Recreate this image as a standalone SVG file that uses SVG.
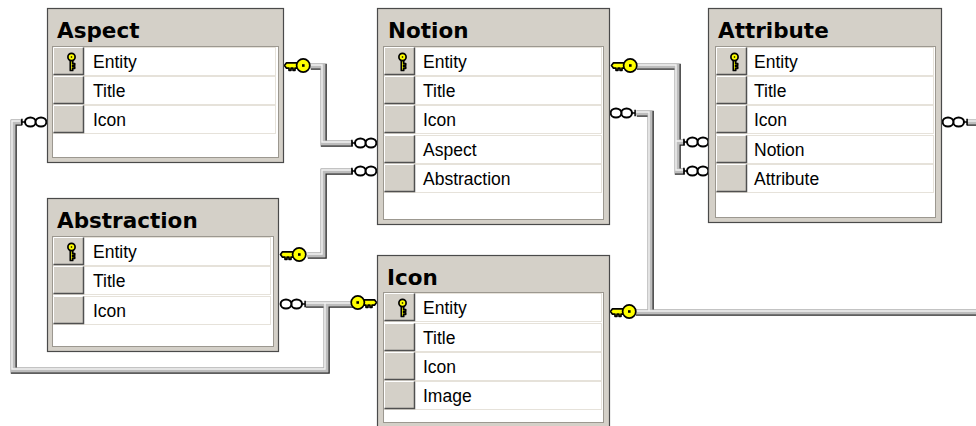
<svg xmlns="http://www.w3.org/2000/svg" xmlns:xlink="http://www.w3.org/1999/xlink" width="976" height="426" viewBox="0 0 976 426">
<style>
.frame{fill:#d4d0c8;stroke:#4a4a4a;stroke-width:1.2}
.inner{fill:#fff;stroke:#9c9890;stroke-width:1}
.row{fill:#fff;stroke:#e6e2da;stroke-width:1}
.title{font-family:"DejaVu Sans",Verdana,sans-serif;font-weight:bold;font-size:21.5px;fill:#000}
.txt{font-family:"Liberation Sans",Arial,sans-serif;font-size:17.5px;fill:#000}
.pd{fill:none;stroke:#2a2a2a;stroke-width:6;stroke-linejoin:miter;stroke-linecap:butt}
.pl{fill:none;stroke:#bdbdbd;stroke-width:5;stroke-linejoin:miter;stroke-linecap:butt}
.ph{fill:none;stroke:#f2f2f2;stroke-width:1.4;stroke-linejoin:miter;stroke-linecap:butt}
.key{fill:#ffff00;stroke:#000;stroke-width:1.7;stroke-linejoin:round}
.inf{fill:#fff;stroke:#000;stroke-width:2}
</style>
<defs>
<g id="cell">
<rect width="31" height="28" fill="#d4d0c8"/>
<path d="M0.5,27.5 V0.5 H30.5" fill="none" stroke="#ffffff" stroke-width="1"/>
<path d="M0.5,27.5 H30.5 V0.5" fill="none" stroke="#505050" stroke-width="1.5"/>
</g>
<g id="pk">
<path class="key" stroke-width="1" d="M17.3,13 H19.7 V16.5 H21.7 V18.3 H19.7 V19.5 H21.7 V21.3 H19.7 V23.5 H17.3 Z"/>
<circle class="key" stroke-width="1" cx="18.5" cy="10" r="3.6"/>
<rect x="17.8" y="9.3" width="1.4" height="1.4" fill="#000"/>
</g>
<g id="keyR">
<path class="key" d="M0.5,-0.5 L2.5,-3.2 H14.5 V2.2 H11 V4.3 H9 V2.2 H7 V4.3 H5 V2.2 H2.5 Z"/>
<circle class="key" cx="19.2" cy="-0.5" r="6.6"/>
<rect x="18" y="-1.8" width="2.6" height="2.6" fill="#000"/>
</g>
<g id="infR">
<path d="M0.9,-3.2 V3.2 M0.9,0 H4" fill="none" stroke="#000" stroke-width="1.5"/>
<ellipse class="inf" cx="9.4" cy="0" rx="5.4" ry="4.6"/>
<ellipse class="inf" cx="20" cy="0" rx="5.4" ry="4.6"/>
</g>
<path id="c1" d="M310,66 H323 V143 H352"/>
<path id="c2" d="M307,255 H323 V171 H352"/>
<path id="c3" d="M305,304 H353"/>
<path id="c4" d="M21,122 H13 V370 H326 V304"/>
<path id="c5" d="M636,66 H677 V171 H684 M677,142 H684"/>
<path id="c6" d="M636,113 H650 V312"/>
<path id="c7" d="M635,312 H982"/>
<path id="c8" d="M966,122 H982"/>
</defs>
<rect width="976" height="426" fill="#fff"/>

<g id="connectors">
<g transform="translate(0.8,0.8)">
<use xlink:href="#c4" class="pd"/><use xlink:href="#c1" class="pd"/><use xlink:href="#c2" class="pd"/><use xlink:href="#c3" class="pd"/>
<use xlink:href="#c5" class="pd"/><use xlink:href="#c6" class="pd"/><use xlink:href="#c7" class="pd"/><use xlink:href="#c8" class="pd"/>
</g>
<g>
<use xlink:href="#c4" class="pl"/><use xlink:href="#c1" class="pl"/><use xlink:href="#c2" class="pl"/><use xlink:href="#c3" class="pl"/>
<use xlink:href="#c5" class="pl"/><use xlink:href="#c6" class="pl"/><use xlink:href="#c7" class="pl"/><use xlink:href="#c8" class="pl"/>
</g>
<g transform="translate(-1,-1)">
<use xlink:href="#c4" class="ph"/><use xlink:href="#c1" class="ph"/><use xlink:href="#c2" class="ph"/><use xlink:href="#c3" class="ph"/>
<use xlink:href="#c5" class="ph"/><use xlink:href="#c6" class="ph"/><use xlink:href="#c7" class="ph"/><use xlink:href="#c8" class="ph"/>
</g>
<use xlink:href="#keyR" transform="translate(284,66)"/>
<use xlink:href="#keyR" transform="translate(280,255)"/>
<use xlink:href="#keyR" transform="translate(377,303) scale(-1,1)"/>
<use xlink:href="#keyR" transform="translate(611,66)"/>
<use xlink:href="#keyR" transform="translate(610,312)"/>
<use xlink:href="#infR" transform="translate(351,143)"/>
<use xlink:href="#infR" transform="translate(351,171)"/>
<use xlink:href="#infR" transform="translate(306,304) scale(-1,1)"/>
<use xlink:href="#infR" transform="translate(21,122)"/>
<use xlink:href="#infR" transform="translate(683,142)"/>
<use xlink:href="#infR" transform="translate(683,171)"/>
<use xlink:href="#infR" transform="translate(636,113) scale(-1,1)"/>
<use xlink:href="#infR" transform="translate(968,122) scale(-1,1)"/>
</g>

<g id="aspect">
<rect class="frame" x="47.5" y="8.5" width="236" height="154"/>
<text class="title" x="57" y="38">Aspect</text>
<rect class="inner" x="52.5" y="46.5" width="226" height="111"/>
<rect class="row" x="53.5" y="47.5" width="222" height="28"/>
<rect class="row" x="53.5" y="76.5" width="222" height="28"/>
<rect class="row" x="53.5" y="105.5" width="222" height="28"/>
<use xlink:href="#cell" x="53" y="47"/>
<use xlink:href="#cell" x="53" y="76"/>
<use xlink:href="#cell" x="53" y="105"/>
<use xlink:href="#pk" x="53" y="47"/>
<text class="txt" x="93" y="68">Entity</text>
<text class="txt" x="93" y="97">Title</text>
<text class="txt" x="93" y="126">Icon</text>
</g>

<g id="notion">
<rect class="frame" x="377.5" y="8.5" width="232" height="216"/>
<text class="title" x="388" y="38">Notion</text>
<rect class="inner" x="383.5" y="46.5" width="220" height="173"/>
<rect class="row" x="384.5" y="47.5" width="217" height="28"/>
<rect class="row" x="384.5" y="76.5" width="217" height="28"/>
<rect class="row" x="384.5" y="105.5" width="217" height="28"/>
<rect class="row" x="384.5" y="135.5" width="217" height="28"/>
<rect class="row" x="384.5" y="164.5" width="217" height="28"/>
<use xlink:href="#cell" x="384" y="47"/>
<use xlink:href="#cell" x="384" y="76"/>
<use xlink:href="#cell" x="384" y="105"/>
<use xlink:href="#cell" x="384" y="135"/>
<use xlink:href="#cell" x="384" y="164"/>
<use xlink:href="#pk" x="384" y="47"/>
<text class="txt" x="423" y="68">Entity</text>
<text class="txt" x="423" y="97">Title</text>
<text class="txt" x="423" y="126">Icon</text>
<text class="txt" x="423" y="156">Aspect</text>
<text class="txt" x="423" y="185">Abstraction</text>
</g>

<g id="attribute">
<rect class="frame" x="708.5" y="8.5" width="233" height="214"/>
<text class="title" x="718" y="38">Attribute</text>
<rect class="inner" x="715.5" y="46.5" width="220" height="171"/>
<rect class="row" x="716.5" y="47.5" width="217" height="28"/>
<rect class="row" x="716.5" y="76.5" width="217" height="28"/>
<rect class="row" x="716.5" y="105.5" width="217" height="28"/>
<rect class="row" x="716.5" y="135.5" width="217" height="28"/>
<rect class="row" x="716.5" y="164.5" width="217" height="28"/>
<use xlink:href="#cell" x="716" y="47"/>
<use xlink:href="#cell" x="716" y="76"/>
<use xlink:href="#cell" x="716" y="105"/>
<use xlink:href="#cell" x="716" y="135"/>
<use xlink:href="#cell" x="716" y="164"/>
<use xlink:href="#pk" x="716" y="47"/>
<text class="txt" x="754" y="68">Entity</text>
<text class="txt" x="754" y="97">Title</text>
<text class="txt" x="754" y="126">Icon</text>
<text class="txt" x="754" y="156">Notion</text>
<text class="txt" x="754" y="185">Attribute</text>
</g>

<g id="abstraction">
<rect class="frame" x="47.5" y="198.5" width="231" height="153"/>
<text class="title" x="57" y="228">Abstraction</text>
<rect class="inner" x="52.5" y="236.5" width="221" height="110"/>
<rect class="row" x="53.5" y="237.5" width="217" height="28"/>
<rect class="row" x="53.5" y="266.5" width="217" height="28"/>
<rect class="row" x="53.5" y="296.5" width="217" height="28"/>
<use xlink:href="#cell" x="53" y="237"/>
<use xlink:href="#cell" x="53" y="266"/>
<use xlink:href="#cell" x="53" y="296"/>
<use xlink:href="#pk" x="53" y="237"/>
<text class="txt" x="93" y="258">Entity</text>
<text class="txt" x="93" y="287">Title</text>
<text class="txt" x="93" y="317">Icon</text>
</g>

<g id="icon">
<rect class="frame" x="377.5" y="255.5" width="232" height="175"/>
<text class="title" x="387" y="285">Icon</text>
<rect class="inner" x="383.5" y="292.5" width="220" height="130"/>
<rect class="row" x="384.5" y="293.5" width="217" height="28"/>
<rect class="row" x="384.5" y="323.5" width="217" height="28"/>
<rect class="row" x="384.5" y="352.5" width="217" height="28"/>
<rect class="row" x="384.5" y="381.5" width="217" height="28"/>
<use xlink:href="#cell" x="384" y="293"/>
<use xlink:href="#cell" x="384" y="323"/>
<use xlink:href="#cell" x="384" y="352"/>
<use xlink:href="#cell" x="384" y="381"/>
<use xlink:href="#pk" x="384" y="293"/>
<text class="txt" x="423" y="314">Entity</text>
<text class="txt" x="423" y="344">Title</text>
<text class="txt" x="423" y="373">Icon</text>
<text class="txt" x="423" y="402">Image</text>
</g>
</svg>
